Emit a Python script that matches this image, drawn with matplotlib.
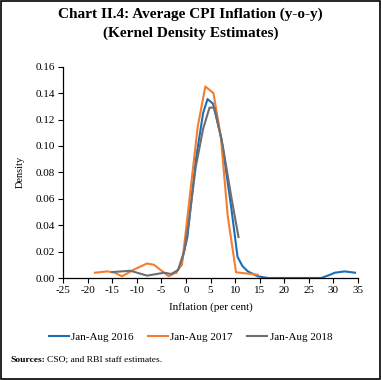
import matplotlib
matplotlib.use("Agg")
import matplotlib.pyplot as plt
from matplotlib.patches import Rectangle

# Data
x_2016 = [-2.0, -1.0, 0.3, 2.0, 3.5, 4.4, 5.5, 7.2, 9.2, 10.5, 11.5, 12.6, 14.6, 16.7, 20, 25, 27.5, 29.0, 30.3, 32.3, 34.4]
y_2016 = [0.004, 0.010, 0.031, 0.089, 0.125, 0.1355, 0.132, 0.106, 0.054, 0.016, 0.009, 0.005, 0.0013, 0.0, 0.0, 0.0, 0.0, 0.002, 0.004, 0.005, 0.004]

x_2017 = [-18.5, -16.0, -14.5, -13.0, -10.5, -7.9, -6.5, -3.5, -2.1, -0.8, 2.4, 3.95, 5.6, 7.1, 8.5, 10.2, 14.6]
y_2017 = [0.004, 0.005, 0.004, 0.0013, 0.0065, 0.011, 0.010, 0.0013, 0.004, 0.010, 0.1146, 0.145, 0.140, 0.107, 0.047, 0.0043, 0.0025]

x_2018 = [-15.0, -11.3, -7.9, -4.4, -3.0, -1.6, -0.3, 0.5, 2.0, 3.5, 4.8, 5.8, 7.5, 9.2, 10.7]
y_2018 = [0.0045, 0.0055, 0.0018, 0.004, 0.003, 0.006, 0.021, 0.040, 0.084, 0.113, 0.129, 0.129, 0.100, 0.062, 0.031]

series_labels = ["Jan-Aug 2016", "Jan-Aug 2017", "Jan-Aug 2018"]
x_ticks = list(range(-25, 40, 5))
y_ticks = [0.00, 0.02, 0.04, 0.06, 0.08, 0.10, 0.12, 0.14, 0.16]

colors = ["#1C6EB5", "#F47D30", "#6D6E71"]
serif = ["Liberation Serif", "DejaVu Serif"]
plt.rcParams['font.family'] = serif

fig = plt.figure(figsize=(3.81, 3.80), dpi=100)
ax = fig.add_axes([63/381, 1-278/380, (358-63)/381, (278-66.7)/380])

for xs, ys, c, lab in zip([x_2016, x_2017, x_2018], [y_2016, y_2017, y_2018], colors, series_labels):
    ax.plot(xs, ys, color=c, lw=1.5, label=lab)

ax.set_xlim(-25, 35)
ax.set_ylim(0, 0.16)
ax.set_xticks(x_ticks)
ax.set_xticklabels([str(v) for v in x_ticks])
ax.set_yticks(y_ticks)
ax.set_yticklabels([f"{v:.2f}" for v in y_ticks])
ax.tick_params(labelsize=8, length=3.5, width=0.8, direction='out', pad=2)
for s in ["top", "right"]:
    ax.spines[s].set_visible(False)
for s in ["left", "bottom"]:
    ax.spines[s].set_linewidth(0.9)
ax.set_ylabel("Density", fontsize=7.5, labelpad=8)
ax.set_xlabel("Inflation (per cent)", fontsize=8, labelpad=5)

fig.text(0.5, 1-14/380, "Chart II.4: Average CPI Inflation (y-o-y)", ha='center', va='center',
         fontsize=11, fontweight='bold')
fig.text(0.5, 1-33/380, "(Kernel Density Estimates)", ha='center', va='center',
         fontsize=11, fontweight='bold')

handles, labels = ax.get_legend_handles_labels()
fig.legend(handles, labels, loc='center', bbox_to_anchor=(0.5, 1-337/380), ncol=3, frameon=False,
           fontsize=8, handlelength=1.8, handletextpad=0.2, columnspacing=1.3)

fig.text(10/381, 1-360/380, "Sources:", fontsize=6.8, fontweight='bold', va='center', ha='left')
fig.text(47/381, 1-360/380, "CSO; and RBI staff estimates.", fontsize=6.8, va='center', ha='left')

fig.patches.append(Rectangle((0.002, 0.002), 0.996, 0.996, transform=fig.transFigure,
                             fill=False, edgecolor='black', lw=1.2))

fig.savefig("out.png", dpi=100)
